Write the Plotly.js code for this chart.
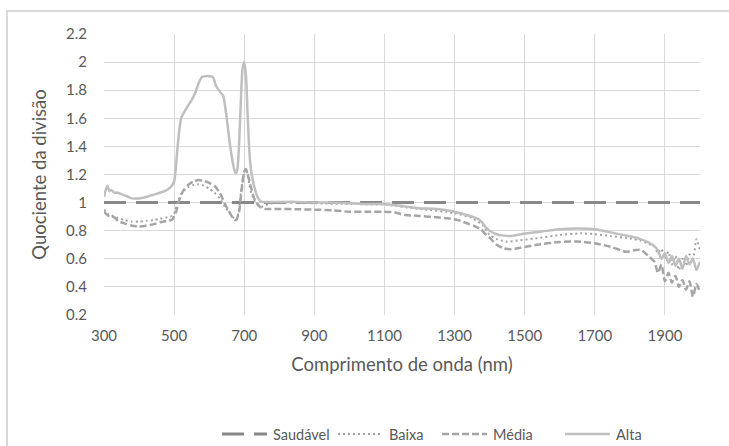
<!DOCTYPE html>
<html>
<head>
<meta charset="utf-8">
<script src="https://cdn.plot.ly/plotly-3.0.1.min.js"></script>
<style>
  html, body { margin: 0; padding: 0; background: #ffffff; }
  #frame { position: absolute; left: 6px; top: 10px; width: 900px; height: 600px;
           border-left: 2px solid #d9d9d9; border-top: 2px solid #d9d9d9; }
  #chart { position: absolute; left: 0; top: 0; width: 729px; height: 446px; }
</style>
</head>
<body>
<div id="frame"></div>
<div id="chart"></div>
<script>
// ---- data ----
const seriesNames = ["Saudável", "Baixa", "Média", "Alta"];

const saudavelX = [300, 2000];
const saudavelY = [1, 1];

const baixaX = [300,310,320,340,360,380,400,420,440,460,480,490,500,510,520,530,540,555,570,585,600,615,630,645,660,670,677,685,692,700,705,710,715,720,730,740,750,770,800,900,1000,1100,1200,1300,1350,1380,1400,1420,1450,1480,1530,1600,1660,1700,1745,1800,1830,1850,1870,1880,1890,1900,1910,1920,1930,1940,1950,1960,1970,1980,1990,2000];
const baixaY = [0.95,0.92,0.91,0.89,0.875,0.865,0.865,0.87,0.875,0.885,0.895,0.90,0.92,1.00,1.06,1.09,1.11,1.125,1.13,1.12,1.10,1.07,1.03,0.97,0.92,0.89,0.875,0.95,1.10,1.22,1.24,1.20,1.12,1.07,1.01,0.98,0.97,0.99,1.0,0.995,0.99,0.985,0.955,0.925,0.89,0.84,0.77,0.74,0.722,0.73,0.745,0.769,0.781,0.775,0.762,0.745,0.73,0.71,0.686,0.64,0.67,0.60,0.65,0.56,0.62,0.52,0.60,0.55,0.63,0.60,0.74,0.66];

const mediaX = [300,310,320,330,340,360,380,400,420,440,460,480,495,505,515,525,540,555,570,585,600,615,630,645,655,665,676,685,692,700,705,710,718,730,745,760,800,860,900,950,1000,1050,1100,1130,1160,1200,1250,1280,1310,1335,1355,1375,1390,1402,1420,1440,1460,1490,1530,1600,1660,1700,1745,1790,1810,1831,1855,1870,1880,1890,1900,1910,1920,1930,1940,1950,1960,1970,1980,1990,2000];
const mediaY = [0.935,0.91,0.90,0.895,0.87,0.85,0.835,0.83,0.835,0.845,0.86,0.87,0.88,0.93,1.02,1.08,1.125,1.15,1.16,1.155,1.14,1.12,1.07,0.99,0.945,0.90,0.875,0.93,1.08,1.22,1.24,1.20,1.12,1.02,0.97,0.955,0.955,0.952,0.95,0.945,0.935,0.935,0.935,0.93,0.912,0.905,0.895,0.888,0.875,0.853,0.835,0.81,0.77,0.745,0.70,0.675,0.668,0.68,0.698,0.72,0.722,0.71,0.686,0.65,0.66,0.663,0.615,0.58,0.50,0.56,0.44,0.50,0.43,0.48,0.40,0.45,0.38,0.44,0.33,0.42,0.36];

const altaX = [300,305,310,315,320,330,340,350,360,370,380,390,400,420,440,460,480,490,500,505,510,515,520,530,540,550,560,570,580,590,600,610,620,630,640,650,660,670,675,680,685,690,695,700,705,710,715,720,730,740,750,770,800,850,900,950,1000,1050,1100,1150,1200,1250,1300,1330,1350,1370,1380,1390,1400,1420,1440,1460,1480,1500,1550,1600,1650,1700,1750,1800,1830,1850,1870,1880,1890,1900,1910,1920,1930,1940,1950,1960,1970,1980,1990,2000];
const altaY = [1.04,1.09,1.12,1.08,1.09,1.07,1.07,1.06,1.05,1.04,1.03,1.03,1.03,1.04,1.055,1.07,1.09,1.11,1.15,1.25,1.40,1.52,1.60,1.65,1.69,1.73,1.78,1.85,1.895,1.90,1.90,1.895,1.83,1.79,1.76,1.60,1.40,1.25,1.21,1.23,1.40,1.70,1.95,2.0,1.90,1.60,1.35,1.22,1.10,1.03,1.005,1.005,1.005,1.005,1.0,1.0,0.995,0.99,0.99,0.975,0.96,0.955,0.935,0.915,0.90,0.88,0.855,0.82,0.80,0.775,0.765,0.762,0.77,0.78,0.795,0.81,0.815,0.81,0.785,0.76,0.74,0.72,0.69,0.66,0.60,0.64,0.57,0.62,0.55,0.60,0.53,0.62,0.56,0.60,0.52,0.58];

const xTicks = [300, 500, 700, 900, 1100, 1300, 1500, 1700, 1900];
const yTicks = [0.2, 0.4, 0.6, 0.8, 1, 1.2, 1.4, 1.6, 1.8, 2, 2.2];
const yTickText = ["0.2","0.4","0.6","0.8","1","1.2","1.4","1.6","1.8","2","2.2"];

// ---- styles ----
const FONT = "Lato, 'Open Sans', sans-serif";
const TXT = "#595959";
const styles = [
  {color: "#888888", width: 3, dash: "22px,10px"},
  {color: "#a0a0a0", width: 2, dash: "2px,3px"},
  {color: "#a5a5a5", width: 2.5, dash: "7px,3px"},
  {color: "#bfbfbf", width: 2.5, dash: "solid"}
];

const xs = [saudavelX, baixaX, mediaX, altaX];
const ys = [saudavelY, baixaY, mediaY, altaY];
const traces = xs.map((x, i) => ({
  x: x, y: ys[i], name: seriesNames[i], mode: "lines", showlegend: false,
  line: Object.assign({}, styles[i], i > 0 ? {shape: "spline", smoothing: 0.6} : {})
}));

// ---- legend drawn below the plot (pixel positions converted to paper units) ----
const M = {l: 104, r: 29, t: 34, b: 131};
const W = 729, H = 446;
const pw = W - M.l - M.r, ph = H - M.t - M.b;
const px = v => (v - M.l) / pw;
const py = v => (H - M.b - v) / ph;
const legendY = 434;
const legendLineStart = [222, 338, 442, 565];
const legendLineLen = 45;
const shapes = [], annotations = [];
seriesNames.forEach((name, i) => {
  const x0 = legendLineStart[i];
  shapes.push({type: "line", xref: "paper", yref: "paper",
               x0: px(x0), x1: px(x0 + legendLineLen), y0: py(legendY), y1: py(legendY),
               line: {color: styles[i].color, width: styles[i].width, dash: styles[i].dash}});
  annotations.push({xref: "paper", yref: "paper", x: px(x0 + legendLineLen + 4), y: py(legendY),
                    xanchor: "left", yanchor: "middle", showarrow: false, text: name,
                    font: {family: FONT, size: 14.5, color: TXT}});
});

const layout = {
  width: W, height: H,
  margin: M,
  paper_bgcolor: "rgba(0,0,0,0)",
  plot_bgcolor: "#ffffff",
  font: {family: FONT, color: TXT, size: 15},
  showlegend: false,
  shapes: shapes,
  annotations: annotations,
  xaxis: {range: [300, 2000], tickvals: xTicks, showgrid: true, gridcolor: "#d9d9d9", gridwidth: 1,
          zeroline: false, showline: false, ticks: "", ticklabelstandoff: 10,
          tickfont: {family: FONT, size: 15, color: TXT},
          title: {text: "Comprimento de onda (nm)", font: {family: FONT, size: 18.5, color: TXT}, standoff: 15}},
  yaxis: {range: [0.2, 2.2], tickvals: yTicks, ticktext: yTickText, showgrid: true, gridcolor: "#d9d9d9", gridwidth: 1,
          zeroline: false, showline: false, ticks: "", ticklabelstandoff: 16,
          tickfont: {family: FONT, size: 15, color: TXT},
          title: {text: "Quociente da divisão", font: {family: FONT, size: 18.5, color: TXT}, standoff: 14}}
};

Plotly.newPlot("chart", traces, layout, {displayModeBar: false, staticPlot: true});
</script>
</body>
</html>
